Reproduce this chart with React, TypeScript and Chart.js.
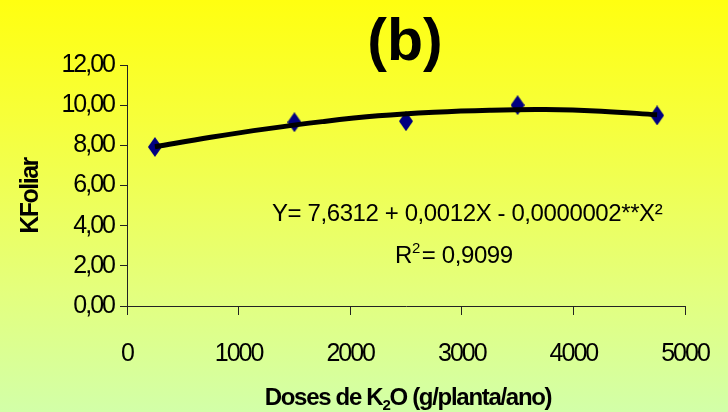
import React, { useEffect, useRef } from 'react';
import { Chart, registerables } from 'chart.js';

Chart.register(...registerables);

// ---- data ----
const doses = [250, 1500, 2500, 3500, 4750];
const kFoliar = [7.92, 9.15, 9.2, 10.0, 9.49];
const trendX = [250, 750, 1250, 1750, 2250, 2750, 3250, 3750, 4250, 4750];
const trendY = [7.93, 8.4, 8.82, 9.18, 9.47, 9.65, 9.75, 9.78, 9.7, 9.52];
const xTicks = [0, 1000, 2000, 3000, 4000, 5000];
const yTicks = [0, 2, 4, 6, 8, 10, 12];
const titleText = '(b)';
const yTitle = 'KFoliar';
const xTitleParts = ['Doses de K', '2', 'O (g/planta/ano)'];
const eqLine1 = 'Y= 7,6312 + 0,0012X - 0,0000002**X²';
const eqLine2Parts = ['R', '2', '= 0,9099'];

const FAMILY = '"Liberation Sans", Arial, sans-serif';

function makeDiamond(): HTMLCanvasElement {
  const c = document.createElement('canvas');
  c.width = 14;
  c.height = 20;
  const g = c.getContext('2d')!;
  g.fillStyle = '#000080';
  g.beginPath();
  g.moveTo(7, 0);
  g.lineTo(14, 10);
  g.lineTo(7, 20);
  g.lineTo(0, 10);
  g.closePath();
  g.fill();
  return c;
}

const textPlugin = {
  id: 'customText',
  beforeDraw(chart: any) {
    chart.ctx.letterSpacing = '-2px';
  },
  afterDraw(chart: any) {
    const ctx: CanvasRenderingContext2D = chart.ctx;
    ctx.save();
    ctx.fillStyle = '#000';
    ctx.textBaseline = 'alphabetic';

    // title
    (ctx as any).letterSpacing = '0px';
    ctx.font = `bold 59px ${FAMILY}`;
    ctx.textAlign = 'center';
    ctx.fillText(titleText, 405, 60);

    // equation line 1
    ctx.font = `24px ${FAMILY}`;
    ctx.textAlign = 'left';
    (ctx as any).letterSpacing = '-0.4px';
    ctx.fillText(eqLine1, 272, 221);

    // equation line 2 (R² = ...)
    ctx.font = `24px ${FAMILY}`;
    let x = 395;
    ctx.fillText(eqLine2Parts[0], x, 263);
    x += ctx.measureText(eqLine2Parts[0]).width;
    ctx.font = `15px ${FAMILY}`;
    ctx.fillText(eqLine2Parts[1], x, 253);
    x += ctx.measureText(eqLine2Parts[1]).width + 2;
    ctx.font = `24px ${FAMILY}`;
    ctx.fillText(eqLine2Parts[2], x, 263);

    // x axis title with subscript
    (ctx as any).letterSpacing = '-1.3px';
    const big = `bold 24px ${FAMILY}`;
    const small = `bold 15px ${FAMILY}`;
    ctx.font = big;
    const w0 = ctx.measureText(xTitleParts[0]).width;
    const w2 = ctx.measureText(xTitleParts[2]).width;
    ctx.font = small;
    const w1 = ctx.measureText(xTitleParts[1]).width;
    const total = w0 + w1 + w2;
    let tx = 408 - total / 2;
    ctx.font = big;
    ctx.fillText(xTitleParts[0], tx, 405);
    tx += w0;
    ctx.font = small;
    ctx.fillText(xTitleParts[1], tx, 410);
    tx += w1;
    ctx.font = big;
    ctx.fillText(xTitleParts[2], tx, 405);

    // y axis title rotated
    ctx.save();
    ctx.translate(31, 196);
    ctx.rotate(-Math.PI / 2);
    (ctx as any).letterSpacing = '-1.5px';
    ctx.font = `bold 25px ${FAMILY}`;
    ctx.textAlign = 'center';
    ctx.textBaseline = 'middle';
    ctx.fillText(yTitle, 0, 0);
    ctx.restore();

    ctx.restore();
  },
};

export default function App() {
  const ref = useRef<HTMLCanvasElement>(null);

  useEffect(() => {
    document.body.style.margin = '0';
    const canvas = ref.current!;
    const diamond = makeDiamond();
    const chart = new Chart(canvas, {
      type: 'scatter',
      data: {
        datasets: [
          {
            label: 'Tendência',
            data: trendX.map((x, i) => ({ x, y: trendY[i] })),
            showLine: true,
            borderColor: '#000000',
            borderWidth: 5,
            pointRadius: 0,
            tension: 0.4,
            fill: false,
            order: 0,
          } as any,
          {
            label: 'KFoliar',
            data: doses.map((x, i) => ({ x, y: kFoliar[i] })),
            pointStyle: diamond,
            pointRadius: 10,
            showLine: false,
            backgroundColor: '#000080',
            borderColor: '#000080',
            order: 1,
          } as any,
        ],
      },
      options: {
        animation: false,
        responsive: false,
        devicePixelRatio: 1,
        layout: { padding: { left: 0, right: 43, top: 65, bottom: 0 } },
        plugins: {
          legend: { display: false },
          tooltip: { enabled: false },
          title: { display: false },
        },
        scales: {
          x: {
            type: 'linear',
            min: 0,
            max: 5000,
            afterBuildTicks: (s: any) => {
              s.ticks = xTicks.map((v) => ({ value: v }));
            },
            afterFit: (s: any) => {
              s.height = 106;
              s.paddingLeft = 0;
              s.paddingRight = 0;
            },
            grid: {
              drawOnChartArea: false,
              drawTicks: true,
              tickLength: 9,
              color: '#222',
              lineWidth: 1,
            },
            border: { display: true, color: '#222', width: 1 },
            ticks: {
              color: '#000',
              font: { family: FAMILY, size: 25 },
              padding: 24,
              maxRotation: 0,
              autoSkip: false,
              callback: (v: any) => String(v),
            },
          },
          y: {
            type: 'linear',
            min: 0,
            max: 12,
            afterBuildTicks: (s: any) => {
              s.ticks = yTicks.map((v) => ({ value: v }));
            },
            afterFit: (s: any) => {
              s.width = 127;
              s.paddingTop = 0;
              s.paddingBottom = 0;
            },
            grid: {
              drawOnChartArea: false,
              drawTicks: true,
              tickLength: 7,
              color: '#222',
              lineWidth: 1,
            },
            border: { display: true, color: '#222', width: 1 },
            ticks: {
              color: '#000',
              font: { family: FAMILY, size: 25 },
              padding: 6,
              autoSkip: false,
              callback: (v: any) => Number(v).toFixed(2).replace('.', ','),
            },
          },
        },
      },
      plugins: [textPlugin],
    });
    return () => chart.destroy();
  }, []);

  return (
    <div
      style={{
        width: 728,
        height: 412,
        background: 'linear-gradient(to bottom, #FFFF10 0%, #F6FF3C 30%, #E4FF7C 70%, #D2FFA8 100%)',
      }}
    >
      <canvas ref={ref} width={728} height={412} style={{ display: 'block' }} />
    </div>
  );
}
